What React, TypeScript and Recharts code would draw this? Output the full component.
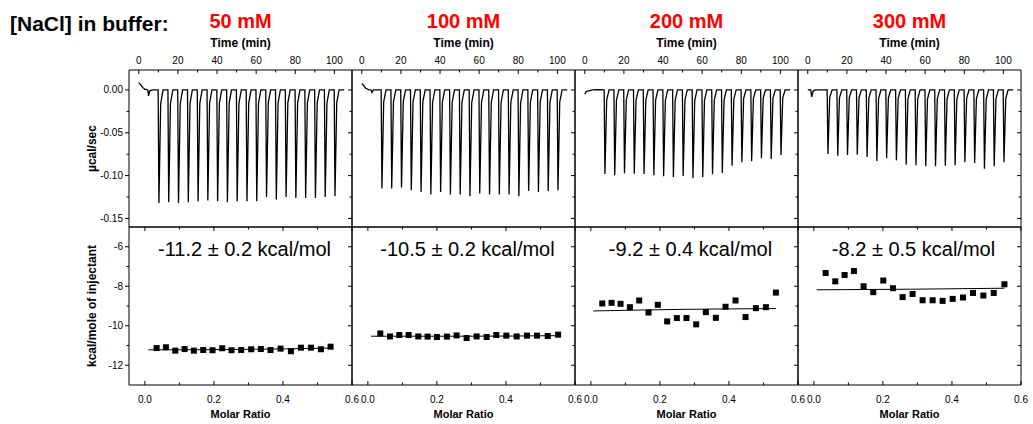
import React from 'react';
import { ComposedChart, Line, Scatter, XAxis, YAxis, ReferenceLine } from 'recharts';

// ---------- data ----------
const concentrations = ['50 mM', '100 mM', '200 mM', '300 mM'];
const enthalpyLabels = ['-11.2 \u00b1 0.2 kcal/mol', '-10.5 \u00b1 0.2 kcal/mol', '-9.2 \u00b1 0.4 kcal/mol', '-8.2 \u00b1 0.5 kcal/mol'];

const injectionTimes = [10, 15, 20, 25, 30, 35, 40, 45, 50, 55, 60, 65, 70, 75, 80, 85, 90, 95, 100];

const peaks50 = [-0.132, -0.131, -0.132, -0.131, -0.130, -0.129, -0.130, -0.131, -0.130, -0.130, -0.130, -0.125, -0.128, -0.125, -0.126, -0.126, -0.126, -0.125, -0.124];
const peaks100 = [-0.115, -0.115, -0.114, -0.117, -0.119, -0.122, -0.119, -0.122, -0.122, -0.124, -0.121, -0.122, -0.122, -0.122, -0.124, -0.118, -0.119, -0.118, -0.117];
const peaks200 = [-0.098, -0.0996, -0.0973, -0.0977, -0.098, -0.0996, -0.1008, -0.1016, -0.1004, -0.1031, -0.1019, -0.0984, -0.0969, -0.0884, -0.0845, -0.0833, -0.0798, -0.0806, -0.076];
const peaks300 = [-0.0748, -0.0767, -0.076, -0.0756, -0.0783, -0.0829, -0.0798, -0.0822, -0.0872, -0.088, -0.0891, -0.0891, -0.0884, -0.088, -0.0845, -0.0853, -0.0919, -0.0891, -0.0845];

// start of each trace (time, µcal/sec), incl. the small first injection
const start50: [number, number][] = [[0, 0.0085], [1, 0.006], [2, 0.003], [3, 0.001], [4.6, 0], [5, -0.007], [5.6, -0.001], [7, 0]];
const start100: [number, number][] = [[0, 0.0075], [1, 0.005], [2, 0.002], [3.5, 0.0005], [4.8, 0], [5.2, -0.003], [6, 0]];
const start200: [number, number][] = [[0, -0.005], [0.6, -0.002], [2, -0.001], [4, 0], [6, 0.0005]];
const start300: [number, number][] = [[0, 0], [1.5, 0], [2, -0.008], [2.8, -0.001], [4, 0]];
const traceEnd = 105;

const ratios50 = [0.034, 0.061, 0.088, 0.115, 0.142, 0.169, 0.196, 0.224, 0.251, 0.279, 0.308, 0.336, 0.364, 0.393, 0.423, 0.452, 0.481, 0.51, 0.538];
const ratios100 = [0.036, 0.064, 0.091, 0.118, 0.146, 0.173, 0.2, 0.229, 0.257, 0.286, 0.315, 0.344, 0.372, 0.401, 0.431, 0.461, 0.49, 0.521, 0.551];
const ratios200 = [0.033, 0.06, 0.086, 0.113, 0.14, 0.167, 0.194, 0.221, 0.249, 0.277, 0.305, 0.333, 0.362, 0.39, 0.419, 0.448, 0.478, 0.507, 0.536];
const ratios300 = [0.034, 0.062, 0.089, 0.116, 0.144, 0.172, 0.201, 0.229, 0.257, 0.286, 0.315, 0.344, 0.373, 0.402, 0.432, 0.461, 0.491, 0.521, 0.552];

const heats50 = [-11.13, -11.09, -11.26, -11.18, -11.26, -11.23, -11.24, -11.14, -11.24, -11.23, -11.19, -11.18, -11.23, -11.16, -11.29, -11.11, -11.11, -11.19, -11.06];
const heats100 = [-10.39, -10.54, -10.47, -10.47, -10.54, -10.55, -10.57, -10.55, -10.49, -10.62, -10.54, -10.57, -10.47, -10.5, -10.54, -10.5, -10.5, -10.52, -10.45];
const heats200 = [-8.87, -8.84, -8.89, -9.06, -8.72, -9.33, -8.94, -9.78, -9.61, -9.61, -9.93, -9.31, -9.6, -9.04, -8.72, -9.56, -9.11, -9.06, -8.32];
const heats300 = [-7.33, -7.75, -7.43, -7.23, -8.0, -8.3, -7.71, -8.1, -8.55, -8.39, -8.71, -8.71, -8.74, -8.64, -8.57, -8.34, -8.47, -8.34, -7.9];

const fit50: [number, number][] = [[0.01, -11.22], [0.27, -11.2], [0.54, -11.13]];
const fit100: [number, number][] = [[0.009, -10.53], [0.28, -10.53], [0.557, -10.5]];
const fit200: [number, number][] = [[0.007, -9.25], [0.27, -9.17], [0.536, -9.13]];
const fit300: [number, number][] = [[0.008, -8.18], [0.28, -8.15], [0.552, -8.1]];

const timeTicks = [0, 10, 20, 30, 40, 50, 60, 70, 80, 90, 100];
const powerTicks = [0, -0.025, -0.05, -0.075, -0.1, -0.125, -0.15];
const ratioTicks = [0, 0.1, 0.2, 0.3, 0.4, 0.5, 0.6];
const heatTicks = [-12, -11, -10, -9, -8, -7, -6];

const timeDomain: [number, number] = [-5, 109];
const powerDomain: [number, number] = [-0.16, 0.0233];
const ratioDomain: [number, number] = [-0.046, 0.6];
const heatDomain: [number, number] = [-13, -5];

// ---------- build series tables ----------
function buildTrace(start: [number, number][], peaks: number[]) {
  const pts: { t: number; v: number }[] = start.map(([t, v]) => ({ t, v }));
  injectionTimes.forEach((t, i) => {
    pts.push({ t: t - 0.1, v: 0 });
    pts.push({ t: t + 0.3, v: peaks[i] });
    pts.push({ t: t + 1.2, v: peaks[i] * 0.12 });
    pts.push({ t: t + 2.4, v: 0 });
  });
  pts.push({ t: traceEnd, v: 0 });
  return pts;
}
function buildPoints(xs: number[], ys: number[]) {
  return xs.map((x, i) => ({ x, y: ys[i] }));
}
function buildFit(f: [number, number][]) {
  return f.map(([x, y]) => ({ x, y }));
}

const traces = [
  buildTrace(start50, peaks50),
  buildTrace(start100, peaks100),
  buildTrace(start200, peaks200),
  buildTrace(start300, peaks300),
];
const points = [
  buildPoints(ratios50, heats50),
  buildPoints(ratios100, heats100),
  buildPoints(ratios200, heats200),
  buildPoints(ratios300, heats300),
];
const fits = [buildFit(fit50), buildFit(fit100), buildFit(fit200), buildFit(fit300)];

// ---------- layout ----------
const FONT = "'Liberation Sans', Arial, Helvetica, sans-serif";
const PANEL_W = 223;
const X0 = 129;
const PL = 129; // plot left inside each chart
const PR = PL + PANEL_W;
const CHART_W = PR + 20;
const TOP_H = 240;
const TOP_PT = 70;
const BOT_OFF = 200;
const BOT_H = 224;
const BOT_PT = 27;
const BOT_PB = 185;

const MAJ = 4;
const MIN = 2.5;

function TopPanel({ col }: { col: number }) {
  const timeTick = (p: any) => {
    const x = p.x;
    const v = p.payload.value;
    const major = v % 20 === 0;
    return (
      <g>
        <line x1={x} x2={x} y1={TOP_PT} y2={TOP_PT + (major ? MAJ : MIN)} stroke="#000" strokeWidth={1} />
        {major && (
          <text x={x} y={64} textAnchor="middle" fontSize={10} fontFamily={FONT} fill="#000">
            {v}
          </text>
        )}
      </g>
    );
  };
  const powerTick = (p: any) => {
    const y = p.y;
    const v = p.payload.value;
    const major = Math.abs(Math.round(v * 1000) % 50) === 0;
    const len = major ? MAJ : MIN;
    return (
      <g>
        {col === 0 && <line x1={PL - len} x2={PL} y1={y} y2={y} stroke="#000" strokeWidth={1} />}
        {col === 0 && major && (
          <text x={PL - 6} y={y} dy="0.35em" textAnchor="end" fontSize={10} fontFamily={FONT} fill="#000">
            {v.toFixed(2)}
          </text>
        )}
        <line x1={PR - len} x2={PR} y1={y} y2={y} stroke="#000" strokeWidth={1} />
      </g>
    );
  };
  return (
    <div style={{ position: 'absolute', left: X0 + col * PANEL_W - PL, top: 0 }}>
      <ComposedChart width={CHART_W} height={TOP_H} margin={{ top: 50, right: 20, bottom: 13, left: 89 }}>
        <XAxis
          xAxisId="t"
          orientation="top"
          type="number"
          dataKey="t"
          domain={timeDomain}
          ticks={timeTicks}
          interval={0}
          height={20}
          axisLine={false}
          tickLine={false}
          tick={timeTick}
          label={{ value: 'Time (min)', position: 'top', offset: 3, fill: '#000', fontSize: 12, fontWeight: 'bold', fontFamily: FONT }}
        />
        <YAxis
          yAxisId="p"
          type="number"
          dataKey="v"
          domain={powerDomain}
          ticks={powerTicks}
          interval={0}
          width={40}
          axisLine={false}
          tickLine={false}
          tick={powerTick}
          label={
            col === 0
              ? { value: '\u00b5cal/sec', angle: -90, position: 'insideLeft', offset: 3, fill: '#000', fontSize: 12, fontWeight: 'bold', fontFamily: FONT, style: { textAnchor: 'middle' } }
              : undefined
          }
        />
        <ReferenceLine xAxisId="t" yAxisId="p" x={timeDomain[0]} stroke="#000" strokeWidth={1} />
        <ReferenceLine xAxisId="t" yAxisId="p" x={timeDomain[1]} stroke="#000" strokeWidth={1} />
        <ReferenceLine xAxisId="t" yAxisId="p" y={powerDomain[0]} stroke="#000" strokeWidth={1} />
        <ReferenceLine xAxisId="t" yAxisId="p" y={powerDomain[1]} stroke="#000" strokeWidth={1} />
        <Line
          xAxisId="t"
          yAxisId="p"
          data={traces[col]}
          dataKey="v"
          type="linear"
          stroke="#000"
          strokeWidth={1.3}
          dot={false}
          isAnimationActive={false}
        />
      </ComposedChart>
    </div>
  );
}

function BottomPanel({ col }: { col: number }) {
  const ratioTick = (p: any) => {
    const x = p.x;
    const v = p.payload.value;
    const major = Math.round(v * 10) % 2 === 0;
    const len = major ? MAJ : MIN;
    return (
      <g>
        <line x1={x} x2={x} y1={BOT_PB} y2={BOT_PB - len} stroke="#000" strokeWidth={1} />
        <line x1={x} x2={x} y1={BOT_PT} y2={BOT_PT + len} stroke="#000" strokeWidth={1} />
        {major && (
          <text x={x} y={203} textAnchor="middle" fontSize={10} fontFamily={FONT} fill="#000">
            {v.toFixed(1)}
          </text>
        )}
      </g>
    );
  };
  const heatTick = (p: any) => {
    const y = p.y;
    const v = p.payload.value;
    const major = Math.abs(v) % 2 === 0;
    const len = major ? MAJ : MIN;
    return (
      <g>
        {col === 0 && <line x1={PL - len} x2={PL} y1={y} y2={y} stroke="#000" strokeWidth={1} />}
        {col === 0 && major && (
          <text x={PL - 6} y={y} dy="0.35em" textAnchor="end" fontSize={10} fontFamily={FONT} fill="#000">
            {v}
          </text>
        )}
        <line x1={PR - len} x2={PR} y1={y} y2={y} stroke="#000" strokeWidth={1} />
      </g>
    );
  };
  const square = (p: any) => <rect x={p.cx - 3} y={p.cy - 3} width={6} height={6} fill="#000" />;
  return (
    <div style={{ position: 'absolute', left: X0 + col * PANEL_W - PL, top: BOT_OFF }}>
      <ComposedChart width={CHART_W} height={BOT_H} margin={{ top: BOT_PT, right: 20, bottom: 19, left: 89 }}>
        <XAxis
          xAxisId="r"
          orientation="bottom"
          type="number"
          dataKey="x"
          domain={ratioDomain}
          ticks={ratioTicks}
          interval={0}
          height={20}
          axisLine={false}
          tickLine={false}
          tick={ratioTick}
          label={{ value: 'Molar Ratio', position: 'bottom', offset: 5, fill: '#000', fontSize: 11, fontWeight: 'bold', fontFamily: FONT }}
        />
        <YAxis
          yAxisId="h"
          type="number"
          dataKey="y"
          domain={heatDomain}
          ticks={heatTicks}
          interval={0}
          width={40}
          axisLine={false}
          tickLine={false}
          tick={heatTick}
          label={
            col === 0
              ? { value: 'kcal/mole of injectant', angle: -90, position: 'insideLeft', offset: 3, fill: '#000', fontSize: 12, fontWeight: 'bold', fontFamily: FONT, style: { textAnchor: 'middle' } }
              : undefined
          }
        />
        <ReferenceLine xAxisId="r" yAxisId="h" x={ratioDomain[0]} stroke="#000" strokeWidth={1} />
        <ReferenceLine xAxisId="r" yAxisId="h" x={ratioDomain[1]} stroke="#000" strokeWidth={1} />
        <ReferenceLine xAxisId="r" yAxisId="h" y={heatDomain[0]} stroke="#000" strokeWidth={1} />
        <ReferenceLine xAxisId="r" yAxisId="h" y={heatDomain[1]} stroke="#000" strokeWidth={1} />
        <Line
          xAxisId="r"
          yAxisId="h"
          data={fits[col]}
          dataKey="y"
          type="monotone"
          stroke="#000"
          strokeWidth={1}
          dot={false}
          isAnimationActive={false}
        />
        <Scatter xAxisId="r" yAxisId="h" data={points[col]} dataKey="y" shape={square} isAnimationActive={false} />
      </ComposedChart>
    </div>
  );
}

export default function App() {
  return (
    <div style={{ position: 'absolute', left: 0, top: 0, width: 1033, height: 424, background: '#fff', overflow: 'hidden' }}>
      {concentrations.map((_, i) => (
        <TopPanel key={'t' + i} col={i} />
      ))}
      {concentrations.map((_, i) => (
        <BottomPanel key={'b' + i} col={i} />
      ))}
      <svg width={1033} height={424} style={{ position: 'absolute', left: 0, top: 0, pointerEvents: 'none' }}>
        <text x={10} y={31} fontSize={21} fontWeight="bold" fontFamily={FONT} fill="#000">
          [NaCl] in buffer:
        </text>
        {concentrations.map((c, i) => (
          <text key={c} x={X0 + PANEL_W * i + PANEL_W / 2} y={28} textAnchor="middle" fontSize={20} fontWeight="bold" fontFamily={FONT} fill="#ff0000">
            {c}
          </text>
        ))}
        {enthalpyLabels.map((c, i) => (
          <text key={c} x={X0 + PANEL_W * i + PANEL_W / 2 + 4} y={256} textAnchor="middle" fontSize={20} fontFamily={FONT} fill="#000">
            {c}
          </text>
        ))}
      </svg>
    </div>
  );
}
